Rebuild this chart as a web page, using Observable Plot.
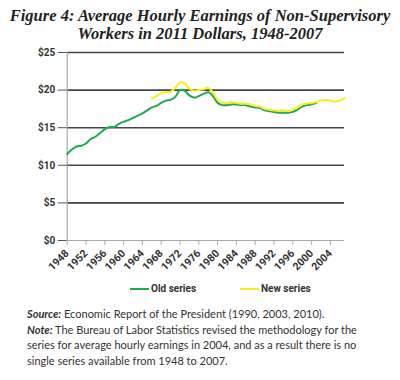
<!DOCTYPE html>
<html><head><meta charset="utf-8">
<script src="https://cdn.jsdelivr.net/npm/d3@7"></script>
<script src="https://cdn.jsdelivr.net/npm/@observablehq/plot@0.6"></script>
<style>
body{margin:0;background:#fff;}
#wrap{position:relative;width:400px;height:380px;overflow:hidden;}
#title{position:absolute;left:0;top:7px;width:400px;text-align:center;font-family:"Liberation Serif",serif;font-weight:bold;font-style:italic;font-size:16.5px;line-height:18px;color:#222;}
#chart{position:absolute;left:0;top:44px;}
.leg{position:absolute;top:283px;font-family:Roboto,sans-serif;font-weight:bold;font-size:10px;color:#333;display:flex;align-items:center;}
.sw{display:inline-block;width:19px;height:2px;margin-right:2px;}
#cap{position:absolute;left:27px;top:306px;font-family:Lato,sans-serif;font-size:11px;line-height:15.5px;color:#333;}
</style></head>
<body><div id="wrap">
<div id="title">Figure 4: Average Hourly Earnings of Non-Supervisory<br>Workers in 2011 Dollars, 1948-2007</div>
<div id="chart"></div>
<div class="leg" style="left:130px"><span class="sw" style="background:#1fa84f"></span>Old series</div>
<div class="leg" style="left:240px"><span class="sw" style="background:#f7ee1a"></span>New series</div>
<div id="cap"><b><i>Source:</i></b> Economic Report of the President (1990, 2003, 2010).<br><b><i>Note:</i></b> The Bureau of Labor Statistics revised the methodology for the<br>series for average hourly earnings in 2004, and as a result there is no<br>single series available from 1948 to 2007.</div>
</div>
<script>
const oldStart = 1948;
const oldValues = [11.5,12.1,12.5,12.6,12.9,13.5,13.8,14.3,14.8,15.1,15.1,15.5,15.8,16.0,16.3,16.6,16.9,17.3,17.7,17.9,18.3,18.6,18.7,19.1,20.0,19.9,19.3,19.0,19.2,19.5,19.7,19.2,18.3,18.0,18.0,18.1,18.1,18.0,18.0,17.8,17.7,17.6,17.3,17.2,17.1,17.0,17.0,17.0,17.1,17.4,17.8,18.0,18.1,18.3];
const newStart = 1966;
const newValues = [18.9,19.2,19.6,19.7,19.8,20.3,21.0,20.9,20.2,19.9,20.0,20.1,20.3,19.7,18.7,18.3,18.3,18.4,18.3,18.2,18.2,18.1,17.9,17.8,17.5,17.4,17.3,17.3,17.3,17.2,17.4,17.7,18.1,18.2,18.3,18.4,18.6,18.7,18.6,18.5,18.6,18.9];
const yTicks = [0,5,10,15,20,25];
const gridValues = [5,10,15,20,25];
const xTicks = [1948,1952,1956,1960,1964,1968,1972,1976,1980,1984,1988,1992,1996,2000,2004];

const oldData = oldValues.map((v,i)=>({year: oldStart+i, value: v}));
const newData = newValues.map((v,i)=>({year: newStart+i, value: v}));

const chart = Plot.plot({
  width: 400, height: 236,
  marginLeft: 66.7, marginRight: 56, marginTop: 8, marginBottom: 40,
  style: {fontFamily: "Roboto, sans-serif", fontSize: "10px", fontWeight: "bold", color: "#333", background: "transparent"},
  x: {domain: [1948, 2007]},
  y: {domain: [0, 25]},
  marks: [
    Plot.ruleY(gridValues, {x1: 1948, x2: 2007, stroke: "#444", strokeWidth: 1.6}),
    Plot.ruleY([0], {x1: 1948, x2: 2007, stroke: "#aaa", strokeWidth: 1.2}),
    Plot.ruleX([1948], {y1: 0, y2: 25, stroke: "#aaa", strokeWidth: 1.2}),
    Plot.axisY({ticks: yTicks, tickSize: 9, tickPadding: 3, tickFormat: d => "$" + d, stroke: "#555", fill: "#333", label: null}),
    Plot.axisX({ticks: xTicks, tickSize: 5, tickPadding: 6, tickRotate: -45, fontSize: 10.5, tickFormat: d => String(d), stroke: "#aaa", fill: "#333", label: null}),
    Plot.line(oldData, {x: "year", y: "value", stroke: "#1fa84f", strokeWidth: 2, curve: "catmull-rom"}),
    Plot.line(newData, {x: "year", y: "value", stroke: "#f7ee1a", strokeWidth: 2, curve: "catmull-rom"})
  ]
});
document.getElementById("chart").appendChild(chart);
</script>
</body></html>
